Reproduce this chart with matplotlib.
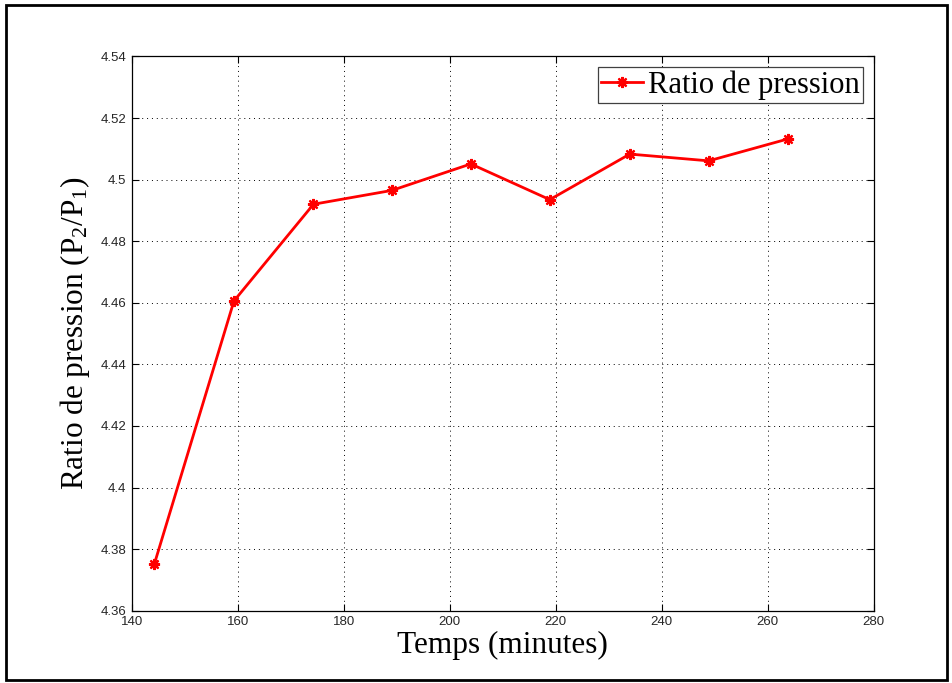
import numpy as np
import matplotlib.pyplot as plt
from matplotlib.patches import Rectangle

# data
temps = [144.3, 159.3, 174.3, 189.1, 204.0, 218.9, 234.0, 248.9, 263.8]
ratio = [4.3753, 4.4606, 4.4920, 4.4965, 4.5051, 4.4935, 4.5083, 4.5061, 4.5132]
xticks = [140, 160, 180, 200, 220, 240, 260, 280]
yticks = [4.36, 4.38, 4.40, 4.42, 4.44, 4.46, 4.48, 4.50, 4.52, 4.54]
ytick_labels = ['4.36', '4.38', '4.4', '4.42', '4.44', '4.46', '4.48', '4.5', '4.52', '4.54']

serif = 'Liberation Serif'
plt.rcParams['mathtext.fontset'] = 'custom'
plt.rcParams['mathtext.rm'] = serif

fig = plt.figure(figsize=(9.53, 6.83), dpi=100)
ax = fig.add_axes([0.1382, 0.1059, 0.7784, 0.8114])

ax.plot(temps, ratio, color='red', lw=2, marker=(8, 2, 0), ms=8, mew=1.6,
        label='Ratio de pression')

ax.set_xlim(140, 280)
ax.set_ylim(4.36, 4.54)
ax.set_xticks(xticks)
ax.set_yticks(yticks)
ax.set_yticklabels(ytick_labels)
ax.tick_params(direction='in', top=True, right=True, length=5, width=0.8,
               labelsize=9.5, labelcolor='#262626', pad=4)
for lab in ax.get_xticklabels() + ax.get_yticklabels():
    lab.set_family('Liberation Sans')
ax.grid(True, color='black', linestyle=(0, (1, 4)), linewidth=0.7)
for s in ax.spines.values():
    s.set_linewidth(0.9)

ax.set_xlabel('Temps (minutes)', fontsize=22.5, family=serif, labelpad=2)
ax.set_ylabel(r'Ratio de pression ($\mathrm{P_2/P_1}$)', fontsize=22.5,
              family=serif, labelpad=6)

leg = ax.legend(loc='upper right', prop={'family': serif, 'size': 22},
                fancybox=False, framealpha=1, edgecolor='#404040',
                handlelength=1.4, handletextpad=0.15, borderpad=0.1,
                borderaxespad=0.35)
leg.get_frame().set_linewidth(0.9)

fig.patches.append(Rectangle((6 / 953, 3 / 683), 941 / 953, 675 / 683,
                             transform=fig.transFigure, fill=False,
                             edgecolor='black', linewidth=2))

fig.savefig('out.png', dpi=100)
